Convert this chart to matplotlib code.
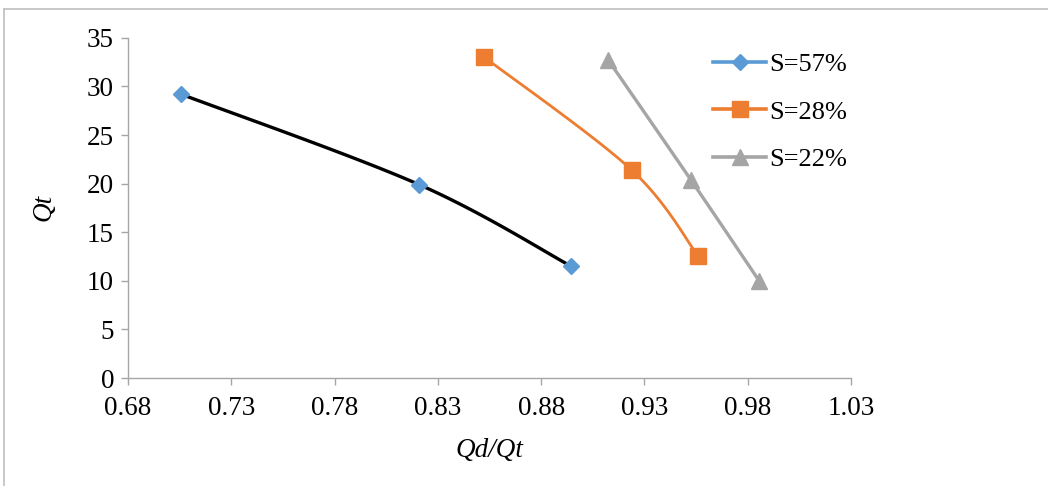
import numpy as np
import matplotlib
matplotlib.use("Agg")
import matplotlib.pyplot as plt
from matplotlib.lines import Line2D

# data
labels = ['S=57%', 'S=28%', 'S=22%']
x57 = [0.7057, 0.8209, 0.8945]
y57 = [29.2, 19.9, 11.5]
x28 = [0.8525, 0.9238, 0.9558]
y28 = [33.0, 21.4, 12.6]
x22 = [0.9125, 0.9524, 0.9855]
y22 = [32.7, 20.4, 10.0]
x_ticks = [0.68, 0.73, 0.78, 0.83, 0.88, 0.93, 0.98, 1.03]
y_ticks = [0, 5, 10, 15, 20, 25, 30, 35]

blue = '#5B9BD5'
orange = '#ED7D31'
gray = '#A5A5A5'
axis_gray = '#A6A6A6'

plt.rcParams['font.family'] = ['Liberation Serif', 'DejaVu Serif']


def smooth(xs, ys, n=40):
    # Excel-like smoothed line: cubic Bezier segments with Catmull-Rom handles
    xs = np.asarray(xs, float)
    ys = np.asarray(ys, float)
    px, py = [], []
    k = len(xs)
    for i in range(k - 1):
        p0 = np.array([xs[max(i - 1, 0)], ys[max(i - 1, 0)]])
        p1 = np.array([xs[i], ys[i]])
        p2 = np.array([xs[i + 1], ys[i + 1]])
        p3 = np.array([xs[min(i + 2, k - 1)], ys[min(i + 2, k - 1)]])
        c1 = p1 + (p2 - p0) / 6.0
        c2 = p2 - (p3 - p1) / 6.0
        t = np.linspace(0, 1, n)[:, None]
        b = ((1 - t) ** 3) * p1 + 3 * ((1 - t) ** 2) * t * c1 + 3 * (1 - t) * t ** 2 * c2 + t ** 3 * p2
        px.extend(b[:, 0])
        py.extend(b[:, 1])
    return px, py


fig = plt.figure(figsize=(10.48, 4.86), dpi=100)
ax = fig.add_axes([0.1221, 0.2222, 0.69, 0.70])

# S=57%: black curve, blue diamonds
sx, sy = smooth(x57, y57)
ax.plot(sx, sy, color='black', lw=2.4, solid_capstyle='round', zorder=2)
ax.plot(x57, y57, ls='none', marker='D', ms=8.5, color=blue, zorder=3)

sx, sy = smooth(x28, y28)
ax.plot(sx, sy, color=orange, lw=2.0, zorder=2)
ax.plot(x28, y28, ls='none', marker='s', ms=11.5, color=orange, zorder=3)

sx, sy = smooth(x22, y22)
ax.plot(sx, sy, color=gray, lw=2.4, zorder=2)
ax.plot(x22, y22, ls='none', marker='^', ms=12, color=gray, zorder=3)

ax.set_xlim(0.68, 1.03)
ax.set_ylim(0, 35)
ax.set_xticks(x_ticks)
ax.set_xticklabels(['%.2f' % v for v in x_ticks])
ax.set_yticks(y_ticks)
ax.tick_params(axis='both', direction='out', length=5, width=1, color=axis_gray,
               labelsize=19.5)
ax.tick_params(axis='x', pad=8)
ax.tick_params(axis='y', pad=5)
for s in ['top', 'right']:
    ax.spines[s].set_visible(False)
for s in ['left', 'bottom']:
    ax.spines[s].set_color(axis_gray)
    ax.spines[s].set_linewidth(1)

ax.set_xlabel('Qd/Qt', fontsize=19.5, style='italic', labelpad=12)
ax.set_ylabel('Qt', fontsize=19.5, style='italic', labelpad=22)

handles = [
    Line2D([0], [0], color=blue, lw=2.6, marker='D', ms=8.5),
    Line2D([0], [0], color=orange, lw=2.6, marker='s', ms=11.5),
    Line2D([0], [0], color=gray, lw=2.6, marker='^', ms=12),
]
fig.legend(handles, labels, loc='upper left', bbox_to_anchor=(0.658, 0.94),
           frameon=False, fontsize=19, handlelength=2.0, handletextpad=0.1,
           labelspacing=0.9)

# outer frame (top and left edge only)
fig.add_artist(Line2D([0.004, 1.0], [0.981, 0.981], color='#BFBFBF', lw=1.2,
                      transform=fig.transFigure))
fig.add_artist(Line2D([0.004, 0.004], [0.0, 0.981], color='#BFBFBF', lw=1.2,
                      transform=fig.transFigure))

fig.savefig('out.png', dpi=100)
